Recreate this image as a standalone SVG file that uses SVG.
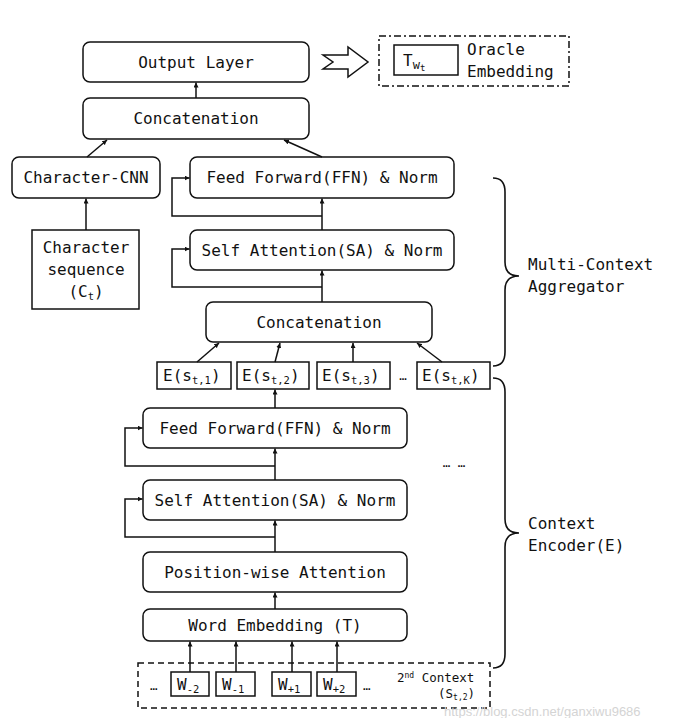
<svg xmlns="http://www.w3.org/2000/svg" width="679" height="718" viewBox="0 0 679 718">
<defs>
<marker id="ah" viewBox="0 0 10 10" refX="10" refY="5" markerWidth="5" markerHeight="5" orient="auto" markerUnits="userSpaceOnUse">
<path d="M0,0 L10,5 L0,10 z" fill="#111"/>
</marker>
<style>
.box{fill:#fff;stroke:#111;stroke-width:1.5}
.t{font-family:"DejaVu Sans Mono","Liberation Mono",monospace;font-size:16px;fill:#111;text-anchor:middle}
.tl{font-family:"DejaVu Sans Mono","Liberation Mono",monospace;font-size:16px;fill:#111}
.s{font-family:"DejaVu Sans Mono","Liberation Mono",monospace;font-size:12.5px;fill:#111}
.sub{font-size:10.5px}
.ln{fill:none;stroke:#111;stroke-width:1.5}
.ar{fill:none;stroke:#111;stroke-width:1.5;marker-end:url(#ah)}
.br{fill:none;stroke:#111;stroke-width:1.6}
</style>
</defs>
<rect width="679" height="718" fill="#fff"/>

<g id="output-layer"><rect class="box" x="83" y="42" width="226" height="40" rx="7"/><text class="t" x="196" y="67.5">Output Layer</text></g>
<g id="concat-top"><rect class="box" x="83" y="98" width="226" height="41" rx="7"/><text class="t" x="196" y="124">Concatenation</text></g>
<g id="hollow-arrow"><path class="ln" d="M323,55 L348,55 L348,47 L368,62 L348,77 L348,69 L323,69 L333,62 Z" stroke-linejoin="miter"/></g>
<g id="oracle">
<rect x="379" y="36" width="190" height="50" fill="none" stroke="#111" stroke-width="1.5" stroke-dasharray="7,3,2,3"/>
<rect class="box" x="394" y="45" width="64" height="30"/>
<text class="tl" x="403" y="66">T<tspan font-size="12" dy="3">w</tspan><tspan font-size="9" dy="2">t</tspan></text>
<text class="tl" x="467" y="55">Oracle</text>
<text class="tl" x="467" y="77">Embedding</text>
</g>

<g id="char-cnn"><rect class="box" x="12" y="157" width="148" height="41" rx="7"/><text class="t" x="86" y="183">Character-CNN</text></g>
<g id="char-seq"><rect class="box" x="32" y="230" width="107" height="79"/>
<text class="t" x="86" y="253">Character</text><text class="t" x="86" y="275">sequence</text>
<text class="t" x="86" y="297">(C<tspan class="sub" dy="3">t</tspan><tspan dy="-3">)</tspan></text></g>

<g id="ffn-top"><rect class="box" x="190" y="157" width="264" height="41" rx="7"/><text class="t" x="322" y="183">Feed Forward(FFN) &amp; Norm</text></g>
<g id="sa-top"><rect class="box" x="190" y="230" width="264" height="40" rx="7"/><text class="t" x="322" y="255.5">Self Attention(SA) &amp; Norm</text></g>
<g id="concat-mid"><rect class="box" x="206" y="302" width="226" height="40" rx="7"/><text class="t" x="319" y="327.5">Concatenation</text></g>

<g id="e1"><rect class="box" x="157" y="362" width="74" height="27"/><text class="tl" x="163" y="381">E(s<tspan class="sub" dy="3">t,1</tspan><tspan dy="-3">)</tspan></text></g>
<g id="e2"><rect class="box" x="237" y="362" width="72" height="27"/><text class="tl" x="242" y="381">E(s<tspan class="sub" dy="3">t,2</tspan><tspan dy="-3">)</tspan></text></g>
<g id="e3"><rect class="box" x="317" y="362" width="73" height="27"/><text class="tl" x="322" y="381">E(s<tspan class="sub" dy="3">t,3</tspan><tspan dy="-3">)</tspan></text></g>
<text class="s" x="403" y="380" text-anchor="middle">…</text>
<g id="ek"><rect class="box" x="417" y="362" width="73" height="27"/><text class="tl" x="422" y="381">E(s<tspan class="sub" dy="3">t,K</tspan><tspan dy="-3">)</tspan></text></g>

<g id="ffn-low"><rect class="box" x="143" y="408" width="264" height="40" rx="7"/><text class="t" x="275" y="433.5">Feed Forward(FFN) &amp; Norm</text></g>
<g id="sa-low"><rect class="box" x="143" y="480" width="264" height="40" rx="7"/><text class="t" x="275" y="505.5">Self Attention(SA) &amp; Norm</text></g>
<g id="pos-att"><rect class="box" x="143" y="552" width="264" height="40" rx="7"/><text class="t" x="275" y="577.5">Position-wise Attention</text></g>
<g id="word-emb"><rect class="box" x="143" y="609" width="264" height="32" rx="7"/><text class="t" x="275" y="630.5">Word Embedding (T)</text></g>
<text class="s" x="454" y="467" text-anchor="middle">… …</text>

<g id="context2">
<rect x="138" y="663" width="352" height="45" fill="none" stroke="#111" stroke-width="1.5" stroke-dasharray="6,4"/>
<text class="s" x="150" y="690">…</text>
<rect class="box" x="171" y="672" width="38" height="24"/><text class="tl" x="177" y="690">W<tspan class="sub" dy="3">-2</tspan></text>
<rect class="box" x="216" y="672" width="39" height="24"/><text class="tl" x="222" y="690">W<tspan class="sub" dy="3">-1</tspan></text>
<rect class="box" x="272" y="672" width="39" height="24"/><text class="tl" x="278" y="690">W<tspan class="sub" dy="3">+1</tspan></text>
<rect class="box" x="317" y="672" width="39" height="24"/><text class="tl" x="323" y="690">W<tspan class="sub" dy="3">+2</tspan></text>
<text class="s" x="363" y="690">…</text>
<text class="s" x="397" y="682">2<tspan font-size="8" dy="-4">nd</tspan><tspan dy="4"> Context</tspan></text>
<text class="s" x="438" y="698">(S<tspan font-size="8" dy="2">t,2</tspan><tspan dy="-2">)</tspan></text>
</g>

<g id="connectors">
<line class="ar" x1="196" y1="98" x2="196" y2="82.5"/>
<line class="ar" x1="87" y1="157" x2="107" y2="140"/>
<line class="ar" x1="322" y1="157" x2="284" y2="140"/>
<line class="ar" x1="86" y1="230" x2="86" y2="198.5"/>
<line class="ar" x1="322" y1="230" x2="322" y2="198.5"/>
<polyline class="ar" points="322,216 172,216 172,178 189.5,178"/>
<line class="ar" x1="322" y1="302" x2="322" y2="270.5"/>
<polyline class="ar" points="322,287 172,287 172,249 189.5,249"/>
<line class="ar" x1="197" y1="362" x2="219" y2="343"/>
<line class="ar" x1="275" y1="362" x2="280" y2="343"/>
<line class="ar" x1="353" y1="362" x2="353" y2="343"/>
<line class="ar" x1="442" y1="362" x2="417" y2="343"/>
<line class="ar" x1="275" y1="408" x2="275" y2="389.5"/>
<polyline class="ar" points="275,466 125,466 125,428 142.5,428"/>
<line class="ar" x1="275" y1="480" x2="275" y2="448.5"/>
<polyline class="ar" points="275,537 125,537 125,499 142.5,499"/>
<line class="ar" x1="275" y1="552" x2="275" y2="520.5"/>
<line class="ar" x1="275" y1="609" x2="275" y2="592.5"/>
<line class="ar" x1="190" y1="672" x2="190" y2="641.5"/>
<line class="ar" x1="236" y1="672" x2="236" y2="641.5"/>
<line class="ar" x1="292" y1="672" x2="292" y2="641.5"/>
<line class="ar" x1="337" y1="672" x2="337" y2="641.5"/>
</g>

<g id="brace-aggregator">
<path class="br" d="M493,178 Q505,178 505,192 L505,262 Q505,276 519,276 Q505,276 505,290 L505,352 Q505,366 493,366"/>
<text class="tl" x="528" y="270">Multi-Context</text>
<text class="tl" x="528" y="292">Aggregator</text>
</g>
<g id="brace-encoder">
<path class="br" d="M493,378 Q505,378 505,392 L505,519 Q505,533 519,533 Q505,533 505,547 L505,654 Q505,668 493,668"/>
<text class="tl" x="528" y="529">Context</text>
<text class="tl" x="528" y="551">Encoder(E)</text>
</g>
<text x="444" y="716" font-family="Liberation Sans, Arial, sans-serif" font-size="13" fill="#d4d4d4">https://blog.csdn.net/ganxiwu9686</text>
</svg>
